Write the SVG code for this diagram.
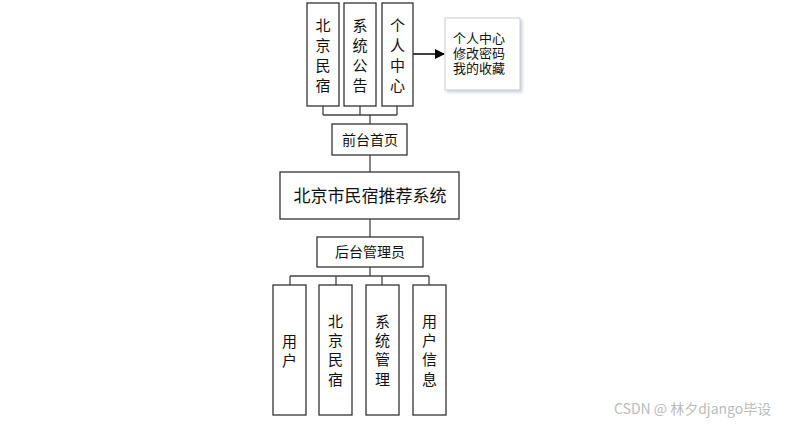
<svg xmlns="http://www.w3.org/2000/svg" width="807" height="424" viewBox="0 0 807 424">
<defs>
<style>
.box{fill:#fff;stroke:#333;stroke-width:1.3}
.ln{fill:none;stroke:#444;stroke-width:1.3}
.t{font-family:"Noto Sans CJK SC","Liberation Sans",sans-serif;fill:#111;text-anchor:middle}
.v{font-size:15px}
</style>
<marker id="ah" markerWidth="10" markerHeight="10" refX="9" refY="5" orient="auto" markerUnits="userSpaceOnUse"><path d="M0,0 L10,5 L0,10 z" fill="#000"/></marker>
<filter id="sh" x="-10%" y="-10%" width="130%" height="130%"><feDropShadow dx="2" dy="2" stdDeviation="1.5" flood-color="#9ab" flood-opacity="0.5"/></filter>
</defs>
<rect width="807" height="424" fill="#fff"/>
<g id="connectors">
<path class="ln" d="M323,106 V115 M360,106 V115 M397,106 V115 M323,115 H397 M370,115 V124"/>
<path class="ln" d="M370,155 V172 M370,219 V237 M370,267 V276 M290,276 H429 M290,276 V285 M336,276 V285 M382,276 V285 M429,276 V285"/>
<path d="M413,54 H444" stroke="#000" stroke-width="1.5" fill="none" marker-end="url(#ah)"/>
</g>
<g id="n_bjms_top"><rect class="box" x="307" y="3" width="32" height="103"/><text class="t v"><tspan x="323" y="31">北</tspan><tspan x="323" y="51">京</tspan><tspan x="323" y="71">民</tspan><tspan x="323" y="91">宿</tspan></text></g>
<g id="n_xtgg"><rect class="box" x="344" y="3" width="32" height="103"/><text class="t v"><tspan x="360" y="31">系</tspan><tspan x="360" y="51">统</tspan><tspan x="360" y="71">公</tspan><tspan x="360" y="91">告</tspan></text></g>
<g id="n_grzx"><rect class="box" x="382" y="3" width="31" height="103"/><text class="t v"><tspan x="397.5" y="31">个</tspan><tspan x="397.5" y="51">人</tspan><tspan x="397.5" y="71">中</tspan><tspan x="397.5" y="91">心</tspan></text></g>
<g id="n_sub"><rect x="445" y="18" width="75" height="72" fill="#fff" stroke="#ccc" stroke-width="1" filter="url(#sh)"/><text class="t" style="font-size:13px;text-anchor:start"><tspan x="453" y="43">个人中心</tspan><tspan x="453" y="58">修改密码</tspan><tspan x="453" y="73">我的收藏</tspan></text></g>
<g id="n_front"><rect class="box" x="332" y="124" width="75" height="31"/><text class="t" x="370" y="145" style="font-size:14px">前台首页</text></g>
<g id="n_main"><rect class="box" x="280" y="172" width="179" height="47"/><text class="t" x="370" y="202" style="font-size:17px">北京市民宿推荐系统</text></g>
<g id="n_admin"><rect class="box" x="317" y="237" width="106" height="30"/><text class="t" x="370" y="257" style="font-size:14px">后台管理员</text></g>
<g id="n_user"><rect class="box" x="273" y="285" width="33" height="130"/><text class="t v"><tspan x="289.5" y="347">用</tspan><tspan x="289.5" y="366">户</tspan></text></g>
<g id="n_bjms"><rect class="box" x="319" y="285" width="33" height="130"/><text class="t v"><tspan x="335.5" y="327">北</tspan><tspan x="335.5" y="346">京</tspan><tspan x="335.5" y="365">民</tspan><tspan x="335.5" y="385">宿</tspan></text></g>
<g id="n_xtgl"><rect class="box" x="366" y="285" width="33" height="130"/><text class="t v"><tspan x="382.5" y="327">系</tspan><tspan x="382.5" y="346">统</tspan><tspan x="382.5" y="365">管</tspan><tspan x="382.5" y="385">理</tspan></text></g>
<g id="n_yhxx"><rect class="box" x="413" y="285" width="33" height="130"/><text class="t v"><tspan x="429.5" y="327">用</tspan><tspan x="429.5" y="346">户</tspan><tspan x="429.5" y="365">信</tspan><tspan x="429.5" y="385">息</tspan></text></g>
<text x="614" y="414" style="font-family:'Noto Sans CJK SC','Liberation Sans',sans-serif;font-size:14px;fill:#bbb">CSDN @ 林夕django毕设</text>
</svg>
